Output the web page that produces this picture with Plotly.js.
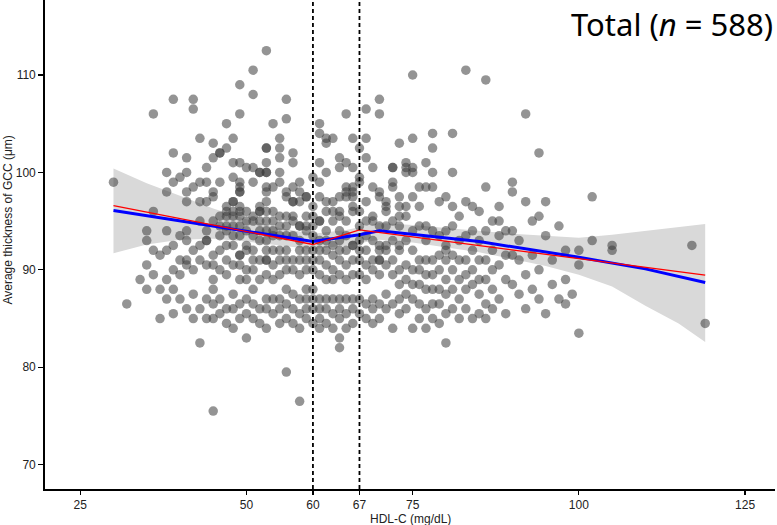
<!DOCTYPE html>
<html>
<head>
<meta charset="utf-8">
<script src="https://cdn.plot.ly/plotly-3.0.1.min.js"></script>
<style>html,body{margin:0;padding:0;background:#fff;}#chart{width:777px;height:525px;}</style>
</head>
<body>
<div id="chart"></div>
<script>
// HDL-C levels (mg/dL) and the GCC thickness values (µm) observed at each level
const hdlLevels = [30,32,34,35,36,37,38,39,40,41,42,43,44,45,46,47,48,49,50,51,52,53,54,55,56,57,58,59,60,
  61,62,63,64,65,66,67,68,69,70,71,72,73,74,75,76,77,78,79,80,81,82,83,84,85,86,87,88,89,90,
  91,92,93,94,95,96,97,98,99,100,102,105,117,119];
const gccAtLevel = [
  [99],
  [86.5],
  [89],
  [94, 93, 90.5, 88],
  [106, 96, 92, 89.5],
  [91.5, 88, 85],
  [100, 98, 94, 92, 89, 87],
  [107.5, 102, 99, 92.5, 90, 88, 85.5],
  [99.5, 93.5, 91, 89.5, 87],
  [101.5, 100, 98, 97, 94, 93, 91, 90.5, 86],
  [107.5, 106.5, 98.5, 92, 90, 87.5, 85],
  [103.5, 99, 97, 95, 92.5, 91, 86, 82.5],
  [100.5, 99, 97, 94, 93, 93, 90.5, 87, 85],
  [103, 101.5, 98, 97.5, 95, 91.5, 90.5, 89, 88, 86.5, 85, 75.5],
  [102, 102, 99, 95.5, 94.5, 93.5, 92, 90, 87, 85.5],
  [105, 102.5, 96.5, 96, 95.5, 94.5, 94, 92.5, 91, 89.5, 86, 84.5],
  [103.5, 101, 99.5, 97, 97, 96, 95.5, 94.5, 93.5, 92.5, 90.5, 87.5, 86, 84],
  [109, 106, 101, 99, 98.5, 98, 98, 96.5, 96, 95.5, 94.5, 93.5, 91.5, 91.5, 90.5, 89, 86.5, 85],
  [100.5, 96, 95, 94, 92.5, 92, 90, 89, 87, 85.5, 83],
  [110.5, 108, 100.5, 99, 95.5, 95, 93.5, 92, 91, 90, 88, 86.5, 85],
  [100, 100, 96.5, 96, 96, 95, 94, 93, 91, 89, 86, 84.5],
  [112.5, 102.5, 102.5, 101, 100, 100, 98.5, 98, 97, 96, 95, 94, 93, 92, 91, 91, 89.5, 87, 86, 84],
  [105, 98.5, 96, 95, 94, 93.5, 92, 90.5, 89, 87, 85.5],
  [103.5, 102.5, 101.5, 100, 99, 95.5, 94.5, 93.5, 92, 91, 89.5, 87, 86, 84.5],
  [107.5, 105.5, 98, 97.5, 95.5, 94.5, 93.5, 92, 91, 90, 88, 86.5, 85, 79.5],
  [102, 101, 98.5, 97, 97, 95.5, 95, 93.5, 91, 90, 87.5, 86, 84.5],
  [99, 98, 97, 94.5, 94.5, 93, 92, 91, 89.5, 87, 85.5, 84, 76.5],
  [97.5, 97.5, 95.5, 94.5, 94, 92, 91, 90, 88, 87, 86, 85],
  [99.5, 96.5, 95.5, 94.5, 93.5, 92, 91, 90, 88, 87, 86, 84.5],
  [105, 104, 101, 99, 97.5, 95, 95, 93, 92, 91, 89.5, 87, 86, 85, 84],
  [103.5, 103, 100, 97, 96, 94, 93, 92, 90.5, 89, 87, 86, 84.5],
  [103.5, 97, 96, 95, 92.5, 91.5, 90, 89, 87, 85.5, 84],
  [101.5, 100.5, 97.5, 96, 95.5, 94, 93, 92, 91, 89.5, 87, 86, 85, 83, 82],
  [106, 101, 98.5, 98, 97.5, 95, 93.5, 92, 90.5, 89, 87, 85.5, 84],
  [103.5, 100.5, 98.5, 98, 97.5, 96.5, 96, 92.5, 92.5, 91, 89.5, 87, 86, 84.5],
  [102.5, 99.5, 99, 96, 94.5, 93, 92, 91, 89.5, 87, 85.5],
  [106.5, 103.5, 101.5, 97, 95, 93.5, 92, 90.5, 89, 86.5, 85],
  [100.5, 98.5, 95.5, 95, 93, 91, 90, 87, 86, 84.5],
  [107.5, 106, 98, 97.5, 94.5, 92.5, 92, 91, 91, 89.5, 86.5, 85],
  [97, 96.5, 96, 94.5, 92.5, 92, 90.5, 87.5, 86],
  [100.5, 100.5, 99, 98.5, 95, 93, 91, 89.5, 86.5, 84],
  [103, 97.5, 96.5, 95.5, 94.5, 92.5, 92, 90, 88.5, 87, 85.5],
  [101, 100.5, 100, 96.5, 95.5, 93, 90.5, 89, 87.5, 86],
  [110, 103.5, 100.5, 100, 97.5, 94, 92, 90, 88.5, 87, 84],
  [98.5, 96.5, 94.5, 91, 90, 88.5, 86.5, 85],
  [101, 98.5, 94.5, 93, 91, 89.5, 88, 86, 84],
  [104, 102.5, 100, 98.5, 94, 91, 89.5, 88, 86.5, 85],
  [97, 93.5, 91.5, 90, 88, 86.5, 84.5],
  [97.5, 94, 92.5, 92, 91, 89, 87.5, 85.5, 82.5],
  [104, 100, 96.5, 94.5, 91.5, 90, 88, 86],
  [95.5, 93, 91, 89, 87, 85],
  [110.5, 97, 93.5, 91, 89.5, 88, 86],
  [96.5, 94, 92, 90, 88.5, 85],
  [96, 93, 91, 89, 87.5, 85.5],
  [109.5, 98.5, 94, 91, 89, 86.5, 85],
  [95, 92, 90, 88, 86],
  [96.5, 95, 93.5, 90.5, 87],
  [94, 91.5, 89, 85.5],
  [99, 98, 94, 91.5, 88.5],
  [93, 91, 87.5],
  [106, 97, 89.5, 86],
  [95, 91.5, 88],
  [102, 95.5, 90, 87],
  [97, 93.5, 85.5],
  [91, 88.5],
  [94.5, 87],
  [92, 89, 86.5],
  [87.5],
  [92, 90.5, 83.5],
  [97.5, 93],
  [92.5, 92],
  [92.5],
  [84.5]
];

// Fitted curves
const redFitX = [30, 60, 67, 119];
const redFitY = [96.6, 92.6, 94.1, 89.45];
const blueFitX = [30, 60, 67, 70, 85, 100, 110, 119];
const blueFitY = [96.1, 92.9, 93.6, 94.0, 92.9, 91.3, 90.1, 88.7];

// Confidence band
const bandX =     [30,   35,   40,   45,   50,   55,   60,   65,   70,   75,   80,   85,   90,   95,   100,  105,  110,  115,  119];
const bandUpper = [100.4,98.9, 97.6, 96.3, 95.2, 94.3, 93.7, 94.1, 94.8, 94.6, 94.3, 94.0, 93.7, 93.5, 93.3, 93.6, 94.0, 94.4, 94.7];
const bandLower = [91.7, 92.6, 93.1, 93.2, 92.9, 92.5, 92.1, 92.5, 93.1, 92.8, 92.3, 91.8, 91.1, 90.4, 89.5, 88.3, 86.3, 84.5, 82.6];

const knots = [60, 67];
const xTicks = [25, 50, 60, 67, 75, 100, 125];
const yTicks = [70, 80, 90, 100, 110];

const ptsX = [], ptsY = [];
hdlLevels.forEach((h, i) => gccAtLevel[i].forEach(v => { ptsX.push(h); ptsY.push(v); }));

const traces = [
  {x: bandX, y: bandLower, mode: 'lines', line: {width: 0, color: 'rgba(0,0,0,0)'}, hoverinfo: 'skip', showlegend: false},
  {x: bandX, y: bandUpper, mode: 'lines', fill: 'tonexty', fillcolor: 'rgb(217,217,217)', line: {width: 0, color: 'rgba(0,0,0,0)'}, hoverinfo: 'skip', showlegend: false},
  {x: ptsX, y: ptsY, mode: 'markers', type: 'scatter', marker: {size: 9.5, color: 'rgba(60,60,60,0.55)', line: {width: 0}}, showlegend: false},
  {x: blueFitX, y: blueFitY, mode: 'lines', line: {color: 'rgb(0,0,255)', width: 3}, showlegend: false},
  {x: redFitX, y: redFitY, mode: 'lines', line: {color: 'rgb(255,0,0)', width: 1.3}, showlegend: false}
];

const font = 'Liberation Sans, Arial, sans-serif';
const layout = {
  width: 777, height: 525,
  margin: {l: 45, r: 2, t: 0, b: 36},
  paper_bgcolor: '#fff', plot_bgcolor: '#fff',
  showlegend: false,
  xaxis: {
    range: [19.7, 129.5], tickvals: xTicks, ticktext: xTicks.map(String),
    showgrid: false, zeroline: false, showline: true, linecolor: '#000', linewidth: 1.8,
    ticks: 'outside', ticklen: 4, tickwidth: 1.2, tickcolor: '#000',
    tickfont: {family: font, size: 12, color: '#222'}
  },
  yaxis: {
    range: [67.5, 117.7], tickvals: yTicks, ticktext: yTicks.map(String),
    showgrid: false, zeroline: false, showline: true, linecolor: '#000', linewidth: 1.8,
    ticks: 'outside', ticklen: 5, tickwidth: 1.2, tickcolor: '#000',
    tickfont: {family: font, size: 12, color: '#222'}
  },
  shapes: knots.map(k => ({type: 'line', xref: 'x', yref: 'paper', x0: k, x1: k, y0: 0, y1: 1,
    line: {color: '#000', width: 1.8, dash: '4px,3px'}})),
  annotations: [
    {text: 'Total (<i>n</i> = 588)', xref: 'paper', yref: 'paper', x: 1, y: 1, xanchor: 'right', yanchor: 'top',
     yshift: -1, showarrow: false, font: {family: 'Noto Sans, sans-serif', size: 31, color: '#000'}},
    {text: 'HDL-C (mg/dL)', xref: 'paper', yref: 'paper', x: 0.5, y: -0.062, xanchor: 'center', yanchor: 'middle',
     showarrow: false, font: {family: font, size: 12, color: '#222'}},
    {text: 'Average thickness of GCC (μm)', xref: 'paper', yref: 'paper', x: -0.05, y: 0.55, xanchor: 'center', yanchor: 'middle',
     textangle: -90, showarrow: false, font: {family: font, size: 12, color: '#222'}}
  ]
};

Plotly.newPlot('chart', traces, layout, {displayModeBar: false, staticPlot: true});
</script>
</body>
</html>
